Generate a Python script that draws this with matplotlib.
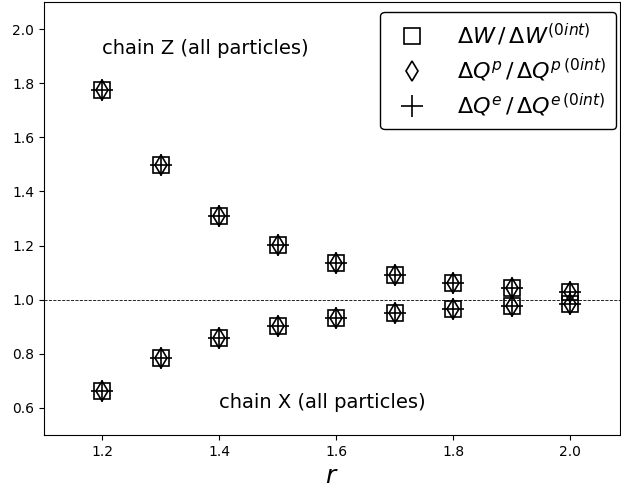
import matplotlib
matplotlib.use('Agg')
import matplotlib.pyplot as plt

r = [1.2, 1.3, 1.4, 1.5, 1.6, 1.7, 1.8, 1.9, 2.0]
# chain Z (all particles)
chainZ = [1.774, 1.498, 1.311, 1.203, 1.134, 1.093, 1.063, 1.044, 1.028]
# chain X (all particles)
chainX = [0.663, 0.785, 0.859, 0.904, 0.933, 0.952, 0.967, 0.978, 0.984]

labels = [r'$\Delta W\,/\,\Delta W^{(0int)}$',
          r'$\Delta Q^p\,/\,\Delta Q^{p\,(0int)}$',
          r'$\Delta Q^e\,/\,\Delta Q^{e\,(0int)}$']

fig = plt.figure(figsize=(6.21, 4.93), dpi=100)
ax = fig.add_axes([44/621, 58/493, 576/621, 433/493])

ax.axhline(1.0, color='k', ls='--', lw=0.6)

# same values for all three ratios
ax.plot(r, chainZ, 's', ms=11, mfc='none', mec='k', mew=1.2, label=labels[0])
ax.plot(r, chainZ, 'd', ms=10, mfc='none', mec='k', mew=1.2, label=labels[1])
ax.plot(r, chainZ, '+', ms=16, mec='k', mew=1.2, label=labels[2])
ax.plot(r, chainX, 's', ms=11, mfc='none', mec='k', mew=1.2)
ax.plot(r, chainX, 'd', ms=10, mfc='none', mec='k', mew=1.2)
ax.plot(r, chainX, '+', ms=16, mec='k', mew=1.2)

ax.text(1.2, 1.93, 'chain Z (all particles)', fontsize=14, va='center')
ax.text(1.4, 0.62, 'chain X (all particles)', fontsize=14, va='center')

ax.set_xlim(1.1, 2.085)
ax.set_ylim(0.5, 2.1)
ax.set_xticks([1.2, 1.4, 1.6, 1.8, 2.0])
ax.set_yticks([0.6, 0.8, 1.0, 1.2, 1.4, 1.6, 1.8, 2.0])
ax.tick_params(labelsize=10)
ax.set_xlabel(r'$r$', fontsize=18)

leg = ax.legend(loc='upper right', bbox_to_anchor=(1 - 4/576, 1 - 10/433),
                borderaxespad=0, fontsize=16, framealpha=1, edgecolor='k',
                handletextpad=1.0, borderpad=0.45, labelspacing=0.38)
leg.get_frame().set_linewidth(1.0)

fig.savefig('out.png', dpi=100)
